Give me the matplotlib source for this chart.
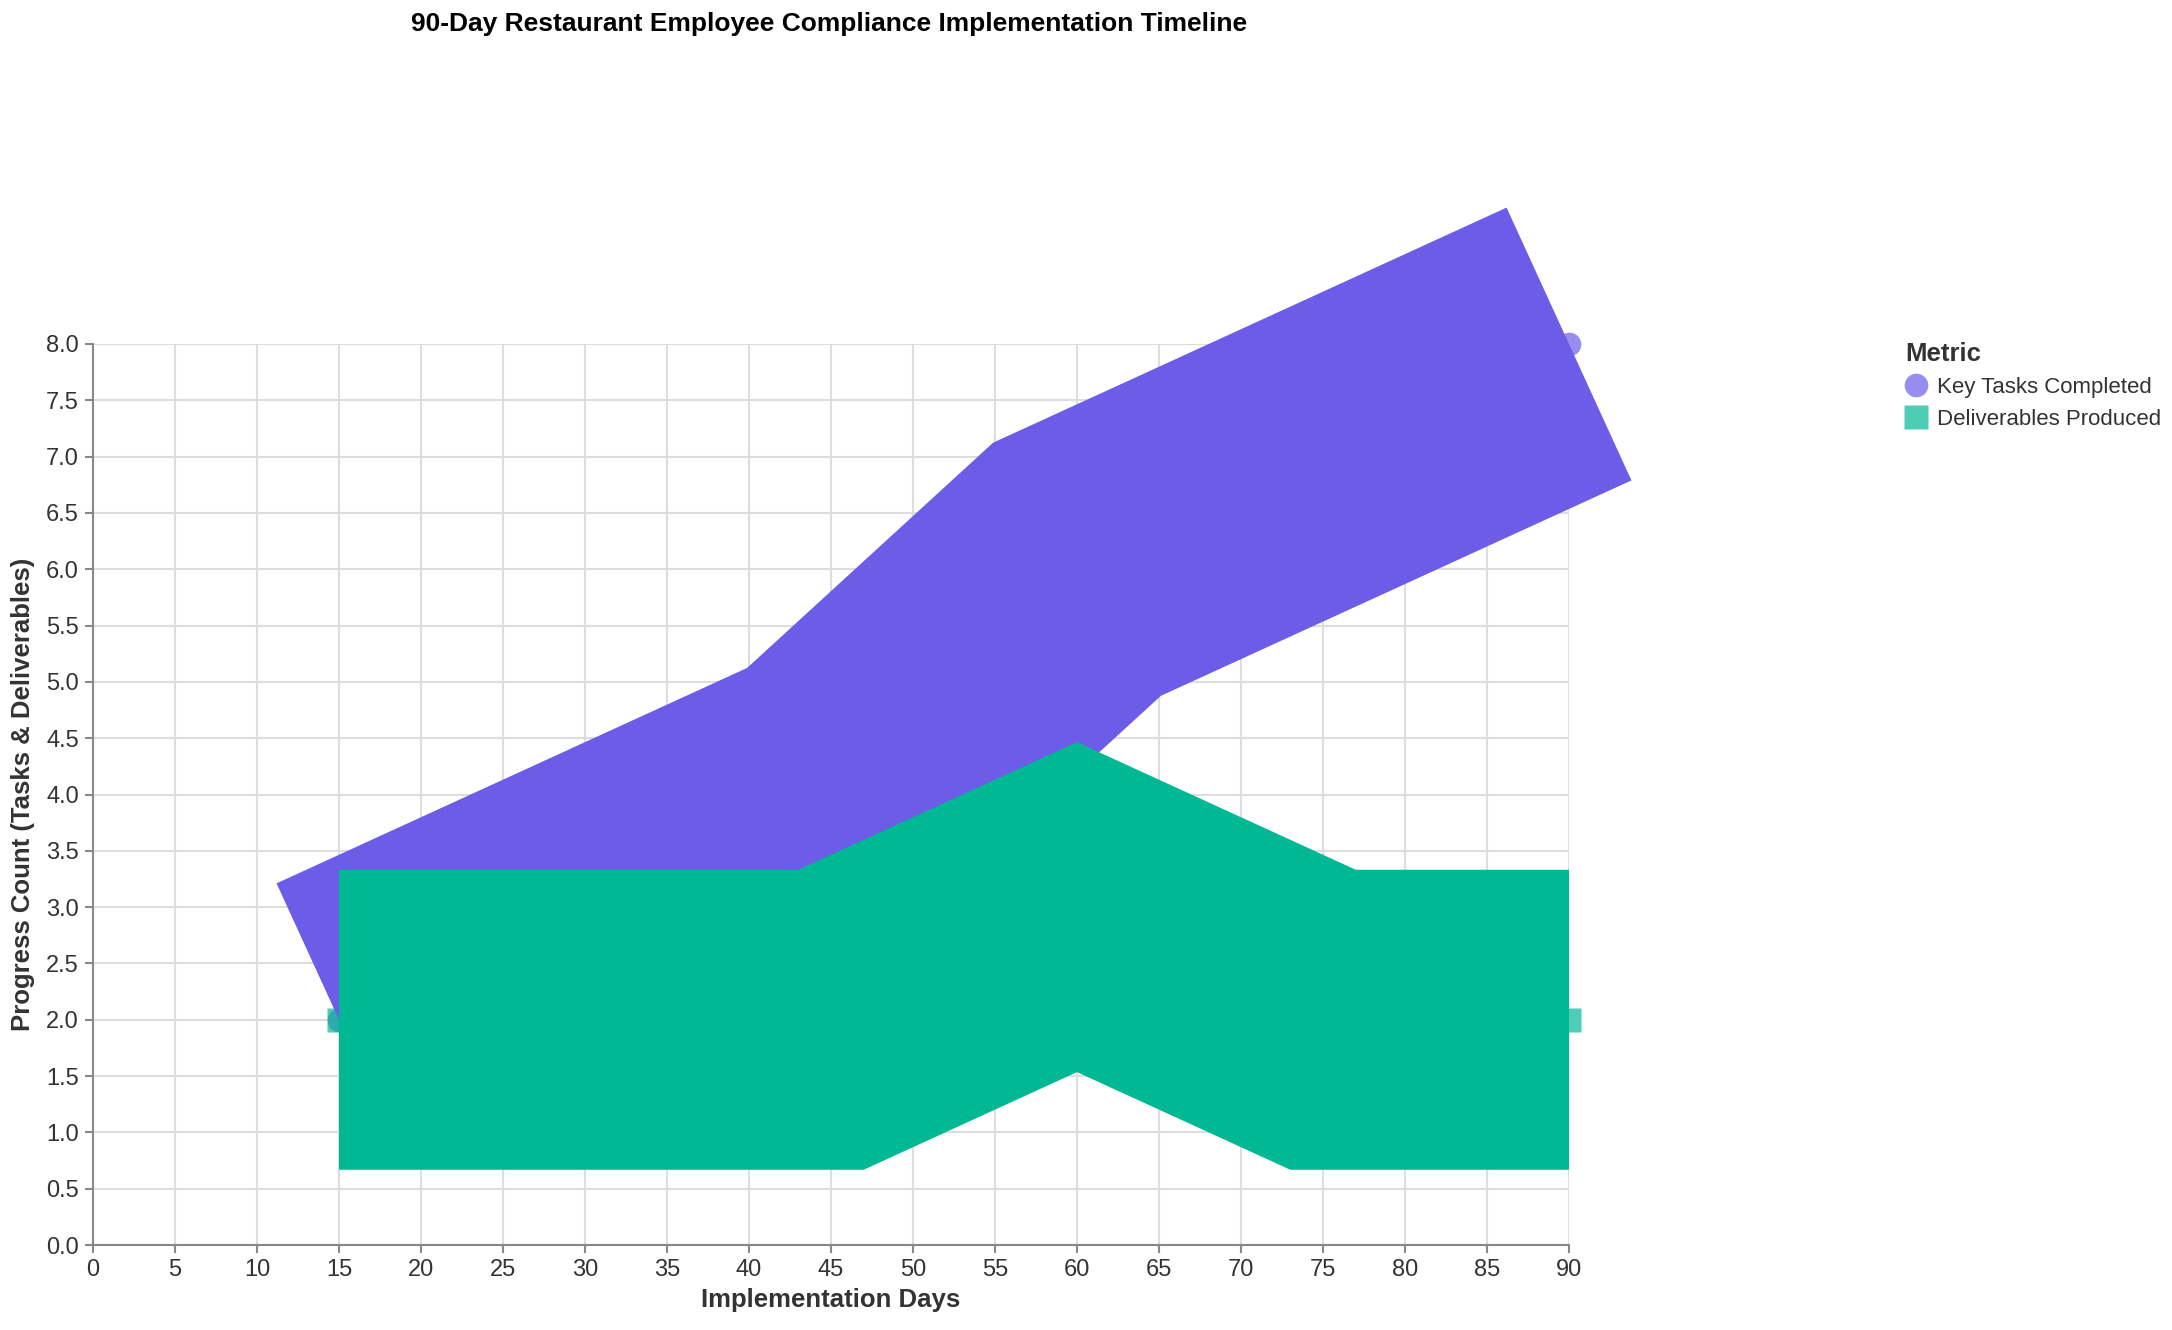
import matplotlib
matplotlib.use("agg")
import matplotlib.pyplot as plt
from matplotlib.lines import Line2D

# data
days = [15, 30, 45, 60, 75, 90]
key_tasks = [2, 3, 4, 6, 7, 8]
deliverables = [2, 2, 2, 3, 2, 2]

series_names = ["Key Tasks Completed", "Deliverables Produced"]
line_colors = ["#6c5ce7", "#00b894"]
marker_shapes = ["o", "s"]

x_ticks = list(range(0, 95, 5))
y_ticks = [i * 0.5 for i in range(17)]

plt.rcParams["font.family"] = ["Liberation Sans", "DejaVu Sans"]

fig = plt.figure(figsize=(21.72, 13.3), dpi=100)
ax = fig.add_axes([93 / 2172, 85 / 1330, 1476 / 2172, 901 / 1330])

for i, vals in enumerate([key_tasks, deliverables]):
    # points sit under the (very thick) lines
    ax.plot(days, vals, linestyle="none", marker=marker_shapes[i], ms=17,
            color=line_colors[i], alpha=0.7, mec="none", zorder=2 + i,
            clip_on=False)
for i, vals in enumerate([key_tasks, deliverables]):
    ax.plot(days, vals, color=line_colors[i], lw=216, solid_capstyle="butt",
            solid_joinstyle="miter", zorder=4 + i, clip_on=False)

ax.set_xlim(0, 90)
ax.set_ylim(0, 8)
ax.set_xticks(x_ticks)
ax.set_yticks(y_ticks)
ax.set_yticklabels([f"{v:.1f}" for v in y_ticks])
ax.grid(True, color="#dddddd", lw=1.5, zorder=0)
ax.set_axisbelow(True)
for side in ["top", "right"]:
    ax.spines[side].set_visible(False)
for side in ["left", "bottom"]:
    ax.spines[side].set_color("#888888")
    ax.spines[side].set_linewidth(1.5)
ax.tick_params(colors="#888888", labelcolor="#333333", labelsize=17,
               length=6, width=1.5, pad=4)

ax.set_xlabel("Implementation Days", fontsize=18.5, fontweight="bold",
              color="#333333", labelpad=5)
ax.set_ylabel("Progress Count (Tasks & Deliverables)", fontsize=18.5,
              fontweight="bold", color="#333333", labelpad=8)

fig.text(829 / 2172, 1 - 24 / 1330, "90-Day Restaurant Employee Compliance Implementation Timeline",
         ha="center", va="center", fontsize=19, fontweight="bold", color="black")

handles = [Line2D([], [], linestyle="none", marker=marker_shapes[i], ms=17,
                  color=line_colors[i], alpha=0.7, mec="none")
           for i in range(2)]
leg = fig.legend(handles, series_names, title="Metric", loc="upper left",
                 bbox_to_anchor=(1896 / 2172, 1 - 333 / 1330), frameon=False,
                 fontsize=16, title_fontsize=18.5, handlelength=1.0,
                 handletextpad=0.45, labelspacing=0.5, borderaxespad=0)
leg.get_title().set_fontweight("bold")
leg.get_title().set_color("#333333")
leg._legend_box.align = "left"
for t in leg.get_texts():
    t.set_color("#333333")

fig.savefig("out.png", dpi=100)
